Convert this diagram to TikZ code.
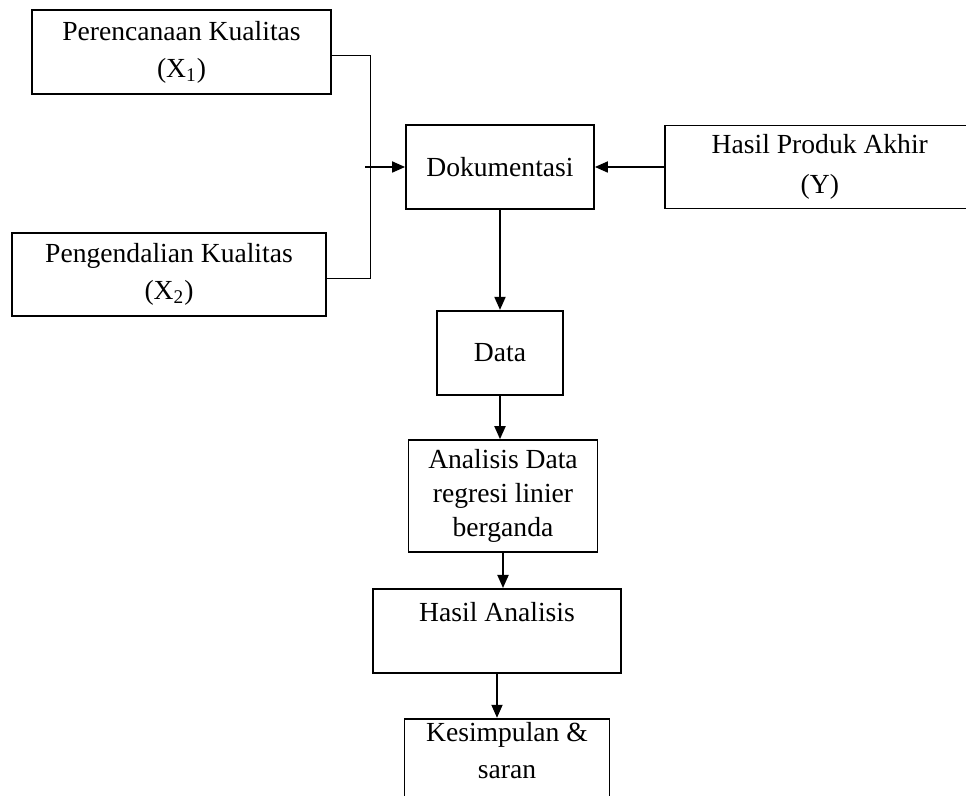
\documentclass[tikz,border=0pt]{standalone}
\usepackage{fontspec}
\setmainfont{Liberation Serif}
\usetikzlibrary{positioning}
\usetikzlibrary{arrows.meta}

\tikzset{
  box/.style={draw, line width=0.9pt, align=center, inner sep=2pt,
    font=\fontsize{13.8}{18.5}\selectfont},
  arr/.style={-{Triangle[length=6.5pt,width=5.5pt]}, line width=0.9pt},
}

\begin{document}
\begin{tikzpicture}
\useasboundingbox (0,0) rectangle (483pt,-398pt);

\node[box, minimum width=149.5pt, minimum height=42pt] (perenc) at (90.75pt,-26pt) {Perencanaan Kualitas\\(X\textsubscript{1})};
\node[box, minimum width=157pt, minimum height=41.5pt] (kendali) at (84.5pt,-137.25pt) {Pengendalian Kualitas\\(X\textsubscript{2})};

\node[box, minimum width=94pt, minimum height=42pt] (dok) at (250pt,-83.5pt) {Dokumentasi};
\node[box, minimum width=155pt, minimum height=41.5pt, right=34.5pt of dok] (hasily) {Hasil Produk Akhir\\[1.5pt](Y)};

\node[box, minimum width=63pt, minimum height=42pt, below=50pt of dok] (data) {Data};
\node[box, minimum width=94.5pt, minimum height=56pt, below=21.75pt of data, xshift=1.5pt] (anal) {Analisis Data\\[-1.5pt]regresi linier\\[-1.5pt]berganda};
\node[box, minimum width=124pt, minimum height=42pt, below=17.5pt of anal, xshift=-3pt] (hasila) {Hasil Analisis\\\mbox{}};
\node[box, minimum width=102.5pt, minimum height=49pt, below=22pt of hasila, xshift=5pt] (simp) {Kesimpulan \&\\saran\\\mbox{}};

\coordinate[left=20pt of dok.west] (jn);
\coordinate[left=17.5pt of dok.west] (bus);

\draw[line width=0.5pt] ([yshift=-2pt]perenc.east) -| (bus) |- ([yshift=-2pt]kendali.east);
\draw[arr] (jn) -- (dok.west);
\draw[arr] (hasily.west) -- (dok.east);

\draw[arr] (dok.south) -- (dok.south |- data.north);
\draw[arr] (data.south) -- (data.south |- anal.north);
\draw[arr] (anal.south) -- (anal.south |- hasila.north);
\draw[arr] (hasila.south) -- (hasila.south |- simp.north);
\end{tikzpicture}
\end{document}
